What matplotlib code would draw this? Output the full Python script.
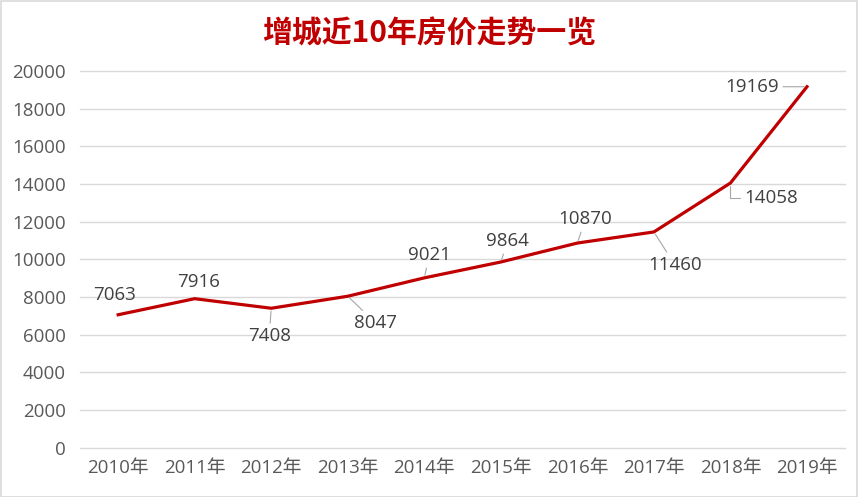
import matplotlib.pyplot as plt
from matplotlib.patches import Rectangle

plt.rcParams['font.family'] = ['Open Sans', 'Noto Sans CJK SC', 'DejaVu Sans']

years = ['2010年', '2011年', '2012年', '2013年', '2014年',
         '2015年', '2016年', '2017年', '2018年', '2019年']
prices = [7063, 7916, 7408, 8047, 9021, 9864, 10870, 11460, 14058, 19169]
yticks = [0, 2000, 4000, 6000, 8000, 10000, 12000, 14000, 16000, 18000, 20000]

# label offsets in pixels (dx, dy) relative to each point
label_offsets = [(-4, 20), (4, 17), (-2, -28), (28, -27), (5, 23),
                 (7, 21), (8, 24), (21, -33), (41, -15), (-55, 0)]
leader = [False, False, True, True, True, True, True, True, True, True]

fig = plt.figure(figsize=(8.59, 4.97), dpi=100)
ax = fig.add_axes([0.093, 0.099, 0.891, 0.758])

x = list(range(len(years)))
ax.plot(x, prices, color='#C00000', lw=2.3, solid_joinstyle='miter', zorder=3)

for i, (v, (dx, dy)) in enumerate(zip(prices, label_offsets)):
    ap = None
    if leader[i]:
        ap = dict(arrowstyle='-', color='#A6A6A6', lw=0.8, shrinkA=1, shrinkB=2)
        if i == 8:
            ap['connectionstyle'] = 'angle,angleA=0,angleB=90,rad=0'
    ax.annotate(str(v), xy=(i, v), xytext=(dx, dy), textcoords='offset pixels',
                ha='center', va='center', fontsize=13.5, color='#404040',
                arrowprops=ap, zorder=4)

ax.set_xlim(-0.5, len(years) - 0.5)
ax.set_ylim(0, 20000)
ax.set_yticks(yticks)
ax.set_xticks(x)
ax.set_xticklabels(years)
ax.grid(axis='y', color='#D9D9D9', lw=1)
for gl in ax.get_ygridlines():
    gl.set_clip_on(False)
ax.set_axisbelow(True)
for s in ax.spines.values():
    s.set_visible(False)
ax.tick_params(length=0, labelsize=13.5, labelcolor='#595959')
ax.tick_params(axis='x', pad=8)
ax.tick_params(axis='y', pad=10)

fig.text(0.5, 0.933, '增城近10年房价走势一览', ha='center', va='center',
         fontsize=21.5, fontweight='bold', color='#C00000',
         family=['Noto Sans CJK SC', 'DejaVu Sans'])

fig.patches.append(Rectangle((0.001, 0.001), 0.997, 0.997, transform=fig.transFigure,
                             fill=False, edgecolor='#D9D9D9', lw=1.2))

fig.savefig('out.png', dpi=100)
